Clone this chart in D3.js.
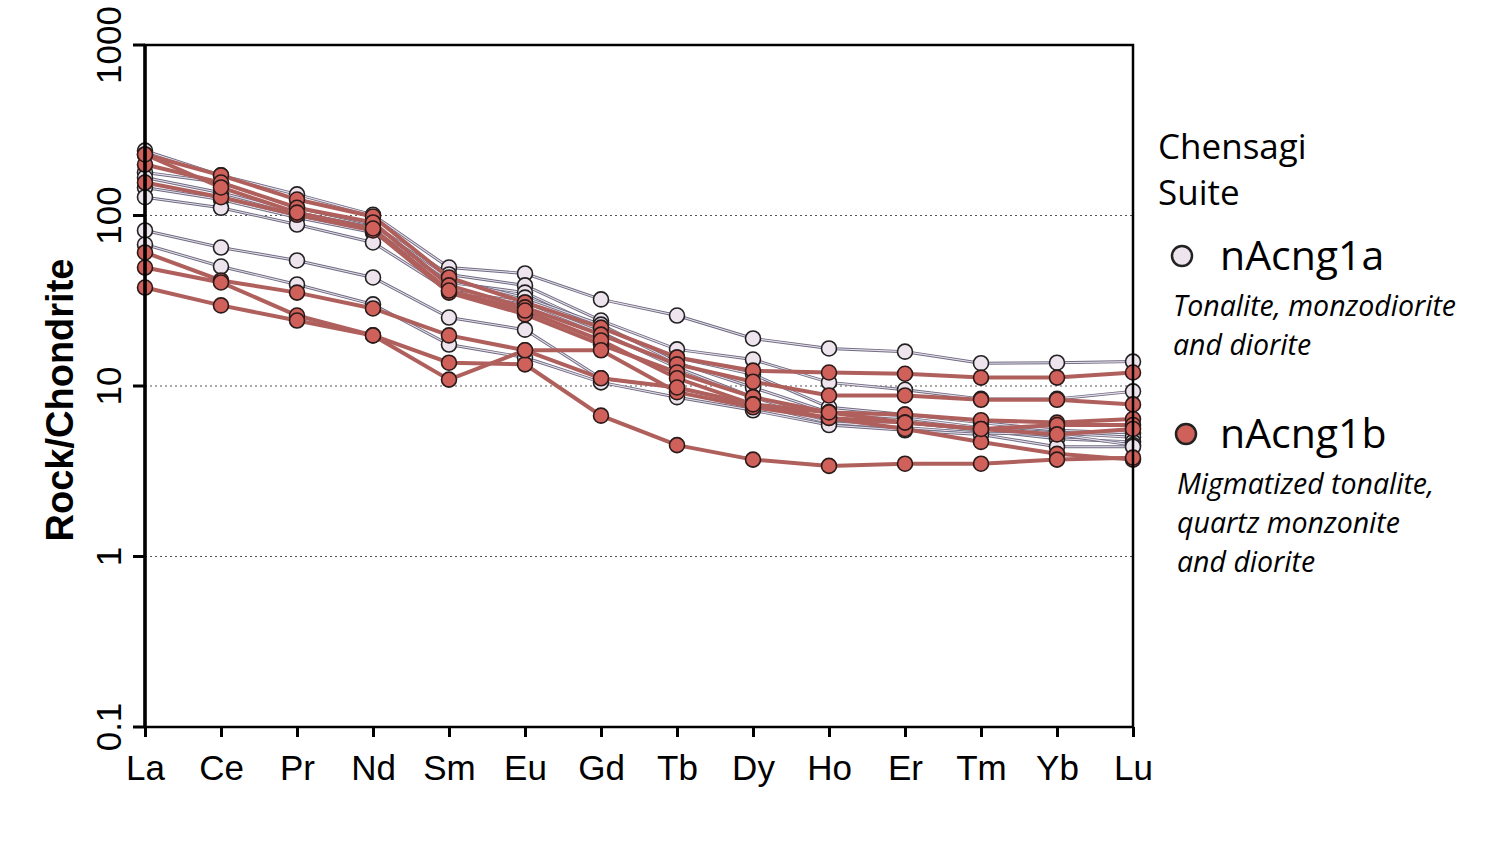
<!DOCTYPE html>
<html><head><meta charset="utf-8">
<script src="https://cdn.jsdelivr.net/npm/d3@7"></script>
<style>body{margin:0;background:#fff}</style></head>
<body><svg width="1500" height="855"></svg>
<script>
const elements = ["La","Ce","Pr","Nd","Sm","Eu","Gd","Tb","Dy","Ho","Er","Tm","Yb","Lu"];
const yTicks = [0.1, 1, 10, 100, 1000];
const gridValues = [1, 10, 100];

// nAcng1a samples (rock/chondrite)
const seriesA = [
  [240,172,133,101,49.5,45.7,32.2,25.9,19.0,16.6,15.9,13.6,13.7,13.9],
  [179,156,111,88.5,45.1,38.9,24.2,16.4,14.3,10.5,9.5,8.4,8.4,9.3],
  [146,124,97.3,79.5,40.5,35.3,22.0,14.7,11.7,7.5,6.8,6.1,5.5,5.3],
  [167,136,104,85,42.2,33.0,22.9,13.7,9.8,7.0,6.5,5.7,5.3,5.0],
  [128,111,88.5,69.5,36.3,30.9,20.6,12.8,8.6,6.3,6.1,5.5,4.9,4.7],
  [81.7,64.9,54.5,43.3,25.2,21.4,11.1,9.8,7.8,6.1,5.7,5.3,5.2,4.5],
  [67.6,50.2,39.4,30.1,17.5,14.7,10.5,8.6,7.2,5.9,5.5,5.2,4.4,4.4]
];
// nAcng1b samples
const seriesB = [
  [228,172,124,98.7,43.3,30.9,22.0,14.7,12.3,12.0,11.8,11.2,11.2,12.0],
  [199,156,111,91,38.9,28.9,20.0,13.4,10.6,8.8,8.8,8.3,8.3,7.8],
  [156,128,101,81.7,35.3,26.3,17.5,12.0,8.6,7.0,6.8,6.3,6.1,6.4],
  [228,146,104,83.9,36.3,27.7,18.5,11.1,7.8,6.5,6.1,5.6,5.9,5.9],
  [60.7,41.6,35.3,28.5,19.8,16.2,16.2,9.2,7.5,6.5,5.6,4.7,4.0,3.7],
  [49.5,40.5,25.9,19.8,13.7,13.4,6.7,4.5,3.7,3.4,3.5,3.5,3.7,3.8],
  [37.8,29.7,24.2,19.8,10.9,16.2,11.1,9.8,7.8,7.0,6.1,5.6,5.2,5.6]
];

const L = 145, R = 1133, T = 45, B = 727;
const svg = d3.select("svg");
const x = d3.scalePoint().domain(elements).range([L, R]).padding(0);
const y = d3.scaleLog().domain([0.1, 1000]).range([B, T]);

// dotted reference lines
svg.append("g").selectAll("line").data(gridValues).enter().append("line")
  .attr("x1", L).attr("x2", R).attr("y1", d => y(d)).attr("y2", d => y(d))
  .attr("stroke", "#555").attr("stroke-width", 1.2).attr("stroke-dasharray", "2,3");

const line = d3.line().x((d, i) => x(elements[i])).y(d => y(d));

// nAcng1a lines: dark outline with light core
const gA = svg.append("g");
seriesA.forEach(s => {
  gA.append("path").attr("d", line(s)).attr("fill", "none").attr("stroke", "#6f6b82").attr("stroke-width", 3);
  gA.append("path").attr("d", line(s)).attr("fill", "none").attr("stroke", "#e6dfea").attr("stroke-width", 1.1);
});
const gB = svg.append("g");
seriesB.forEach(s => {
  gB.append("path").attr("d", line(s)).attr("fill", "none").attr("stroke", "#b0605c").attr("stroke-width", 4);
});
seriesA.forEach(s => {
  gA.selectAll(null).data(s).enter().append("circle")
    .attr("cx", (d, i) => x(elements[i])).attr("cy", d => y(d)).attr("r", 7.5)
    .attr("fill", "#ede4ee").attr("stroke", "#222").attr("stroke-width", 1.6);
});
seriesB.forEach(s => {
  gB.selectAll(null).data(s).enter().append("circle")
    .attr("cx", (d, i) => x(elements[i])).attr("cy", d => y(d)).attr("r", 7.5)
    .attr("fill", "#d0605a").attr("stroke", "#2a1a1a").attr("stroke-width", 1.6);
});

// frame
svg.append("rect").attr("x", L).attr("y", T).attr("width", R - L).attr("height", B - T)
  .attr("fill", "none").attr("stroke", "#000").attr("stroke-width", 2.5);
svg.append("line").attr("x1", L).attr("x2", L).attr("y1", T).attr("y2", B).attr("stroke", "#000").attr("stroke-width", 3.5);

// y axis
const ya = svg.append("g").attr("transform", `translate(${L},0)`)
  .call(d3.axisLeft(y).tickValues(yTicks).tickSize(12).tickFormat(d => String(d)));
ya.select(".domain").remove();
ya.selectAll("line").attr("stroke-width", 3);
ya.selectAll(".tick").each(function(d) {
  const t = d3.select(this).attr("transform", null);
  t.select("line").attr("y1", y(d)).attr("y2", y(d));
  t.select("text").attr("font-family", "Liberation Sans, Arial").attr("font-size", 35).attr("fill", "#000")
    .attr("transform", `translate(-24,${y(d)}) rotate(-90)`).attr("x", 0).attr("y", 0).attr("dy", 0)
    .style("text-anchor", "middle");
});

// x axis
const xa = svg.append("g").attr("transform", `translate(0,${B})`)
  .call(d3.axisBottom(x).tickSize(10));
xa.select(".domain").remove();
xa.selectAll("line").attr("stroke-width", 3);
xa.selectAll("text").attr("font-family", "Liberation Sans, Arial").attr("font-size", 35).attr("fill", "#000").attr("dy", "1.15em");

svg.append("text").attr("transform", "translate(73,400) rotate(-90)")
  .attr("text-anchor", "middle").attr("font-family", "Liberation Sans, Arial")
  .attr("font-weight", "bold").attr("font-size", 38).text("Rock/Chondrite");

// legend
const lg = svg.append("g").attr("font-family", "Open Sans, Noto Sans");
lg.append("text").attr("x", 1158).attr("y", 159).attr("font-size", 35).text("Chensagi");
lg.append("text").attr("x", 1158).attr("y", 205).attr("font-size", 35).text("Suite");
lg.append("circle").attr("cx", 1182).attr("cy", 256).attr("r", 10).attr("fill", "#ede4ee").attr("stroke", "#222").attr("stroke-width", 2.5);
lg.append("text").attr("x", 1220).attr("y", 270).attr("font-size", 41).text("nAcng1a");
lg.append("text").attr("x", 1173).attr("y", 316).attr("font-size", 28.5).attr("font-style", "italic").text("Tonalite, monzodiorite");
lg.append("text").attr("x", 1173).attr("y", 355).attr("font-size", 28.5).attr("font-style", "italic").text("and diorite");
lg.append("circle").attr("cx", 1186).attr("cy", 434).attr("r", 10).attr("fill", "#d0605a").attr("stroke", "#222").attr("stroke-width", 2.5);
lg.append("text").attr("x", 1220).attr("y", 448).attr("font-size", 41).text("nAcng1b");
["Migmatized tonalite,", "quartz monzonite", "and diorite"].forEach((t, i) =>
  lg.append("text").attr("x", 1177).attr("y", 494 + i * 39).attr("font-size", 28.5).attr("font-style", "italic").text(t));
</script></body></html>
